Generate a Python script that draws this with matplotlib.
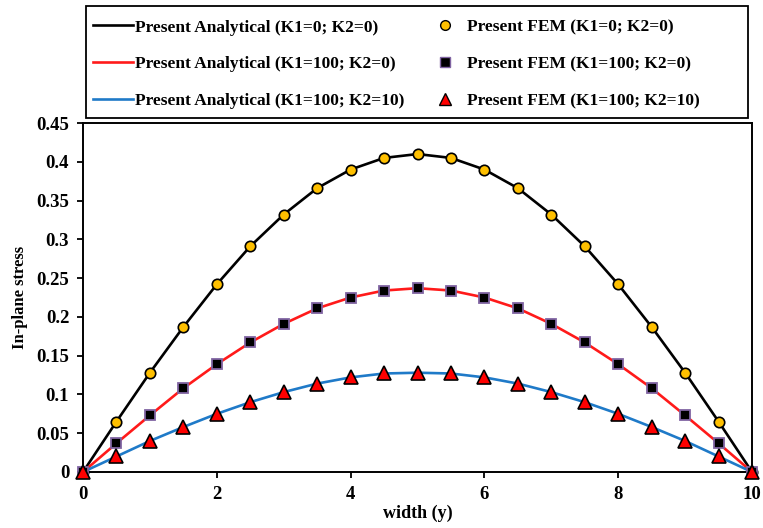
import matplotlib.pyplot as plt
from matplotlib.lines import Line2D
from matplotlib.patches import Rectangle

# values
width_y = [0, 0.5, 1, 1.5, 2, 2.5, 3, 3.5, 4, 4.5, 5, 5.5, 6, 6.5, 7, 7.5, 8, 8.5, 9, 9.5, 10]
stress_k0_k0 = [0, 0.065, 0.128, 0.187, 0.242, 0.291, 0.332, 0.366, 0.390, 0.405, 0.410,
                0.405, 0.390, 0.366, 0.332, 0.291, 0.242, 0.187, 0.128, 0.065, 0]
stress_k100_k0 = [0, 0.037, 0.073, 0.108, 0.139, 0.167, 0.191, 0.211, 0.225, 0.234, 0.237,
                  0.234, 0.225, 0.211, 0.191, 0.167, 0.139, 0.108, 0.073, 0.037, 0]
stress_k100_k10 = [0, 0.020, 0.040, 0.058, 0.075, 0.090, 0.103, 0.114, 0.122, 0.127, 0.128,
                   0.127, 0.122, 0.114, 0.103, 0.090, 0.075, 0.058, 0.040, 0.020, 0]

x_ticks = [0, 2, 4, 6, 8, 10]
y_ticks = [0, 0.05, 0.1, 0.15, 0.2, 0.25, 0.3, 0.35, 0.4, 0.45]
y_tick_labels = ["0", "0.05", "0.1", "0.15", "0.2", "0.25", "0.3", "0.35", "0.4", "0.45"]

analytical_labels = [
    "Present Analytical (K1=0; K2=0)",
    "Present Analytical (K1=100; K2=0)",
    "Present Analytical (K1=100; K2=10)",
]
fem_labels = [
    "Present FEM (K1=0; K2=0)",
    "Present FEM (K1=100; K2=0)",
    "Present FEM (K1=100; K2=10)",
]

plt.rcParams['font.family'] = ['Liberation Serif', 'DejaVu Serif']
plt.rcParams['font.weight'] = 'bold'

fig = plt.figure(figsize=(7.63, 5.28), dpi=100)
ax = fig.add_axes([0.1088, 0.1061, 0.8768, 0.6609])

lw = 1.9
c_black, c_red, c_blue = "black", "#ff1a1a", "#1f7ac8"
ax.plot(width_y, stress_k0_k0, color=c_black, lw=lw, zorder=2)
ax.plot(width_y, stress_k100_k0, color=c_red, lw=lw, zorder=2)
ax.plot(width_y, stress_k100_k10, color=c_blue, lw=lw, zorder=2)

ax.plot(width_y, stress_k0_k0, ls="none", marker="o", ms=7.5, mfc="#ffc000",
        mec="black", mew=1.2, zorder=3, clip_on=False)
ax.plot(width_y, stress_k100_k0, ls="none", marker="s", ms=7, mfc="black",
        mec="#8064a2", mew=1.3, zorder=3, clip_on=False)
ax.plot(width_y, stress_k100_k10, ls="none", marker="^", ms=9.5, mfc="#ff0000",
        mec="black", mew=1.2, zorder=4, clip_on=False)

ax.set_xlim(0, 10)
ax.set_ylim(0, 0.45)
ax.set_xticks(x_ticks)
ax.set_yticks(y_ticks)
ax.set_yticklabels(y_tick_labels)
ax.tick_params(direction="out", length=4, width=1.3, labelsize=13.5, pad=6)
for s in ax.spines.values():
    s.set_linewidth(1.4)
ax.set_xlabel("width (y)", fontsize=13, fontweight="bold", labelpad=1)
ax.set_ylabel("In-plane stress", fontsize=12, fontweight="bold", labelpad=6)

# legend: two columns drawn as two legends inside one box
fig.add_artist(Rectangle((0.1127, 0.7765), 0.8676, 0.2121, transform=fig.transFigure,
                         fill=False, lw=1.3, edgecolor="black"))

line_handles = [Line2D([], [], color=c, lw=lw) for c in (c_black, c_red, c_blue)]
fem_handles = [
    Line2D([], [], ls="none", marker="o", ms=7, mfc="#ffc000", mec="black"),
    Line2D([], [], ls="none", marker="s", ms=6.5, mfc="black", mec="#8064a2"),
    Line2D([], [], ls="none", marker="^", ms=8, mfc="#ff0000", mec="black"),
]
prop = {'family': 'Liberation Serif', 'weight': 'bold', 'size': 12.5}
leg1 = fig.legend(line_handles, analytical_labels, loc="center left",
                  bbox_to_anchor=(0.1219, 0.878), frameon=False, prop=prop,
                  handlelength=2.3, handletextpad=0.1, labelspacing=1.2,
                  borderpad=0, borderaxespad=0)
leg2 = fig.legend(fem_handles, fem_labels, loc="center left",
                  bbox_to_anchor=(0.5718, 0.878), frameon=False, prop=prop,
                  handlelength=1.0, handletextpad=0.76, labelspacing=1.2,
                  borderpad=0, borderaxespad=0)

fig.savefig("out.png", dpi=100)
